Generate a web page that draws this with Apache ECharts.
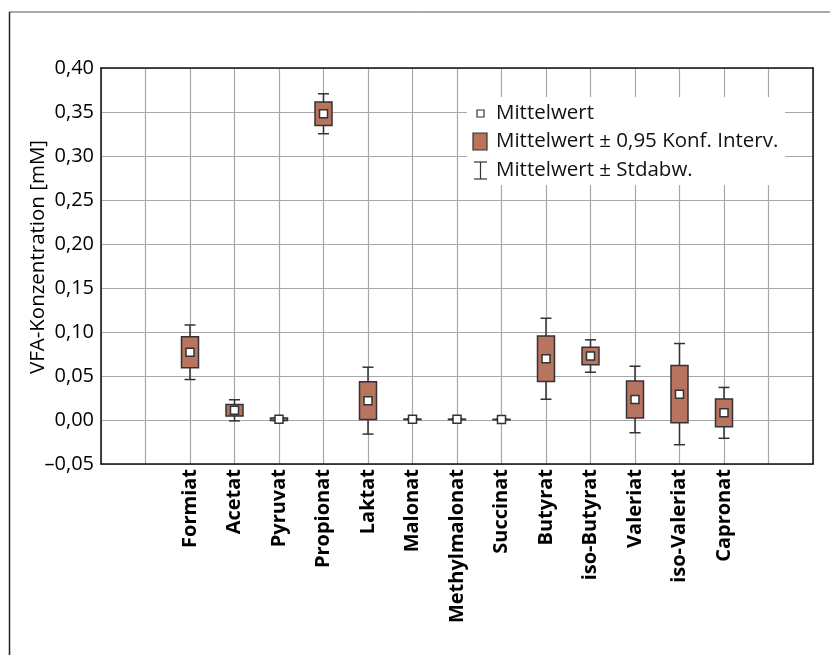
<!DOCTYPE html>
<html>
<head>
<meta charset="utf-8">
<script src="https://cdn.jsdelivr.net/npm/echarts@6/dist/echarts.min.js"></script>
<style>
  html, body { margin: 0; padding: 0; background: #fff; }
  #chart { width: 830px; height: 655px; }
</style>
</head>
<body>
<div id="chart"></div>
<script>
// VFA concentrations per acid: mean, half-width of the 0.95 confidence interval, standard deviation
const categories = ['Formiat', 'Acetat', 'Pyruvat', 'Propionat', 'Laktat', 'Malonat',
  'Methylmalonat', 'Succinat', 'Butyrat', 'iso-Butyrat', 'Valeriat', 'iso-Valeriat', 'Capronat'];
const means  = [0.077, 0.011, 0.0008, 0.348, 0.022, 0.0008, 0.0008, 0.0006, 0.0696, 0.0727, 0.0233, 0.0294, 0.0081];
const ciHalf = [0.0175, 0.0065, 0.0015, 0.0133, 0.0215, 0.0003, 0.0002, 0.0002, 0.0258, 0.0100, 0.0210, 0.0325, 0.0158];
const sdHalf = [0.0310, 0.0120, 0.0018, 0.0227, 0.0380, 0.0005, 0.0004, 0.0004, 0.0460, 0.0184, 0.0378, 0.0575, 0.0289];
const yTicks = [-0.05, 0.00, 0.05, 0.10, 0.15, 0.20, 0.25, 0.30, 0.35, 0.40];

// categories sit on slots 2..14 of a 0..16 grid (two empty slots on each side)
const firstSlot = 2;
const slotCount = categories.length + 2 * firstSlot - 1;

const legendLabels = ['Mittelwert', 'Mittelwert \u00b1 0,95 Konf. Interv.', 'Mittelwert \u00b1 Stdabw.'];

const boxFill = '#b8745f';
const ink = '#333333';
const font = '"Open Sans", "Noto Sans", sans-serif';

const seriesData = categories.map((c, i) => [
  i + firstSlot,
  means[i],
  means[i] - ciHalf[i],
  means[i] + ciHalf[i],
  means[i] - sdHalf[i],
  means[i] + sdHalf[i]
]);

function fmtY(v) {
  const s = Math.abs(v).toFixed(2).replace('.', ',');
  return (v < -1e-9 ? '\u2013' : '') + s;
}

function renderBox(params, api) {
  const x = api.value(0);
  const pm = api.coord([x, api.value(1)]);
  const ciLo = api.coord([x, api.value(2)]);
  const ciHi = api.coord([x, api.value(3)]);
  const sdLo = api.coord([x, api.value(4)]);
  const sdHi = api.coord([x, api.value(5)]);
  const cx = pm[0];
  const bw = 17, cw = 11, ms = 8;
  const lineStyle = { stroke: ink, lineWidth: 1.5 };
  return {
    type: 'group',
    children: [
      { type: 'line', shape: { x1: cx, y1: sdHi[1], x2: cx, y2: sdLo[1] }, style: lineStyle },
      { type: 'line', shape: { x1: cx - cw / 2, y1: sdHi[1], x2: cx + cw / 2, y2: sdHi[1] }, style: lineStyle },
      { type: 'line', shape: { x1: cx - cw / 2, y1: sdLo[1], x2: cx + cw / 2, y2: sdLo[1] }, style: lineStyle },
      { type: 'rect', shape: { x: cx - bw / 2, y: ciHi[1], width: bw, height: Math.max(ciLo[1] - ciHi[1], 0.5) },
        style: { fill: boxFill, stroke: ink, lineWidth: 1.5 } },
      { type: 'rect', shape: { x: cx - ms / 2, y: pm[1] - ms / 2, width: ms, height: ms },
        style: { fill: '#ffffff', stroke: ink, lineWidth: 1.5 } }
    ]
  };
}

// legend: mean marker, confidence box, error bar (drawn above the grid lines)
const lgX = 467, lgY = 97, lgRow = 28.5, lgZ = 100;
const legendElements = [
  { type: 'rect', left: lgX, top: lgY, z: lgZ, shape: { width: 318, height: 88 }, style: { fill: '#ffffff' } },
  { type: 'rect', z: lgZ + 1, shape: { x: lgX + 10, y: lgY + 13, width: 7, height: 7 }, style: { fill: '#fff', stroke: ink, lineWidth: 1.2 } },
  { type: 'rect', z: lgZ + 1, shape: { x: lgX + 6, y: lgY + 36, width: 14, height: 17 }, style: { fill: boxFill, stroke: ink, lineWidth: 1.2 } },
  { type: 'line', z: lgZ + 1, shape: { x1: lgX + 13.5, y1: lgY + 65, x2: lgX + 13.5, y2: lgY + 82 }, style: { stroke: ink, lineWidth: 1.2 } },
  { type: 'line', z: lgZ + 1, shape: { x1: lgX + 7, y1: lgY + 65, x2: lgX + 20, y2: lgY + 65 }, style: { stroke: ink, lineWidth: 1.2 } },
  { type: 'line', z: lgZ + 1, shape: { x1: lgX + 7, y1: lgY + 82, x2: lgX + 20, y2: lgY + 82 }, style: { stroke: ink, lineWidth: 1.2 } }
].concat(legendLabels.map((t, k) => ({
  type: 'text', z: lgZ + 1,
  style: { text: t, x: lgX + 29, y: lgY + 16 + k * lgRow, fill: '#111', font: '20.5px ' + font, textVerticalAlign: 'middle' }
})));

const chart = echarts.init(document.getElementById('chart'), null, { renderer: 'canvas' });
chart.setOption({
  animation: false,
  backgroundColor: '#ffffff',
  textStyle: { fontFamily: font },
  grid: { left: 101, top: 68, right: 17, bottom: 191, containLabel: false },
  xAxis: [{
    type: 'value',
    min: 0, max: slotCount, interval: 1,
    axisLine: { show: true, onZero: false, lineStyle: { color: '#111', width: 1.5 } },
    axisTick: { show: false },
    splitLine: { show: true, lineStyle: { color: '#a8a8a8', width: 1.2 } },
    axisLabel: {
      rotate: 90, margin: 5,
      color: '#000', fontSize: 20, fontWeight: 'bold', fontFamily: font,
      showMinLabel: true, showMaxLabel: true,
      formatter: v => categories[v - firstSlot] || ''
    }
  }, {
    type: 'value', position: 'top',
    min: 0, max: slotCount,
    axisLine: { show: true, onZero: false, lineStyle: { color: '#111', width: 1.5 } },
    axisTick: { show: false }, axisLabel: { show: false }, splitLine: { show: false }
  }],
  yAxis: [{
    type: 'value',
    min: yTicks[0], max: yTicks[yTicks.length - 1], interval: 0.05,
    axisLine: { show: true, onZero: false, lineStyle: { color: '#111', width: 1.5 } },
    axisTick: { show: false },
    splitLine: { show: true, lineStyle: { color: '#a8a8a8', width: 1.2 } },
    axisLabel: { color: '#000', fontSize: 20, fontFamily: font, margin: 7, formatter: fmtY },
    name: 'VFA-Konzentration [mM]',
    nameLocation: 'middle', nameGap: 52, nameMoveOverlap: false,
    nameTextStyle: { color: '#000', fontSize: 20.5, fontFamily: font, padding: [0, 0, 0, 18] }
  }, {
    type: 'value', position: 'right',
    min: yTicks[0], max: yTicks[yTicks.length - 1],
    axisLine: { show: true, onZero: false, lineStyle: { color: '#111', width: 1.5 } },
    axisTick: { show: false }, axisLabel: { show: false }, splitLine: { show: false }
  }],
  graphic: [
    { type: 'line', shape: { x1: 9, y1: 12, x2: 830, y2: 12 }, style: { stroke: '#555', lineWidth: 1 } },
    { type: 'line', shape: { x1: 9.5, y1: 12, x2: 9.5, y2: 655 }, style: { stroke: '#222', lineWidth: 1.5 } }
  ].concat(legendElements),
  series: [{
    type: 'custom',
    xAxisIndex: 0, yAxisIndex: 0,
    renderItem: renderBox,
    data: seriesData,
    z: 10
  }]
});
</script>
</body>
</html>
